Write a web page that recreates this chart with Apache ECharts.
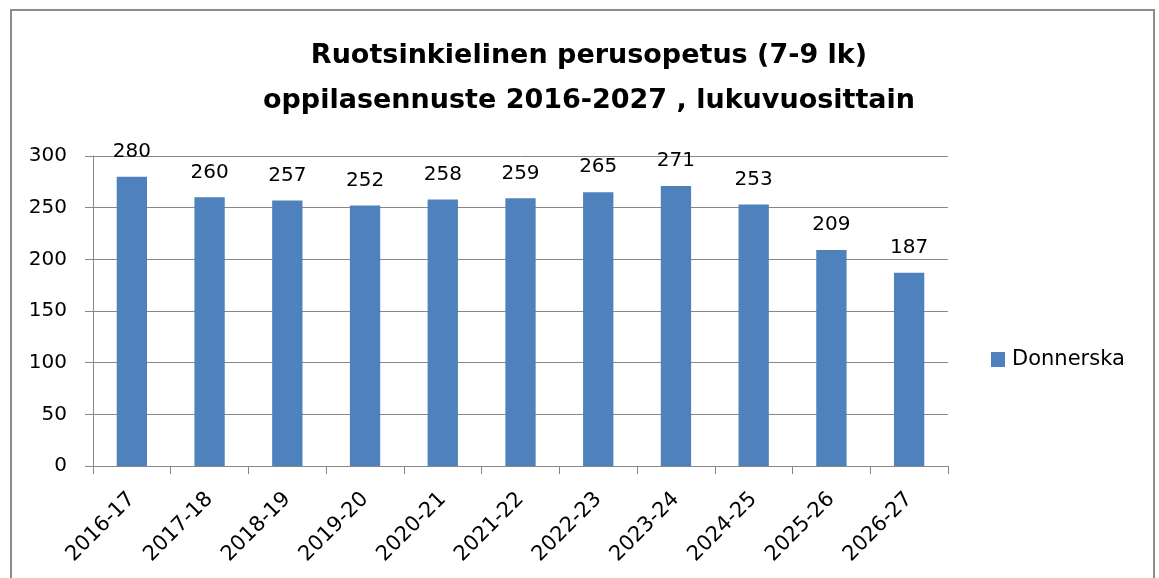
<!DOCTYPE html>
<html>
<head>
<meta charset="utf-8">
<script src="https://cdn.jsdelivr.net/npm/echarts@6/dist/echarts.min.js"></script>
<style>
  html, body { margin: 0; padding: 0; background: #fff; }
  #chart { width: 1159px; height: 578px; }
</style>
</head>
<body>
<div id="chart"></div>
<script>
const categories = ["2016-17", "2017-18", "2018-19", "2019-20", "2020-21", "2021-22", "2022-23", "2023-24", "2024-25", "2025-26", "2026-27"];
const donnerska = [280, 260, 257, 252, 258, 259, 265, 271, 253, 209, 187];
const seriesName = "Donnerska";
const titleText = "Ruotsinkielinen perusopetus (7-9 lk)\noppilasennuste 2016-2027 , lukuvuosittain";

const font = "'DejaVu Sans', sans-serif";
const chart = echarts.init(document.getElementById("chart"));

chart.setOption({
  animation: false,
  backgroundColor: "#fff",
  textStyle: { fontFamily: font },
  graphic: [{
    type: "rect",
    shape: { x: 11, y: 10, width: 1143, height: 600 },
    style: { fill: "none", stroke: "#8c8c8c", lineWidth: 2 },
    silent: true
  }],
  title: {
    text: titleText,
    left: 584,
    textAlign: "center",
    top: 28,
    textStyle: { fontFamily: font, fontSize: 27, fontWeight: "bold", color: "#000", lineHeight: 45 }
  },
  legend: {
    data: [seriesName],
    left: 986,
    top: 344,
    icon: "rect",
    itemWidth: 14,
    itemHeight: 15,
    itemGap: 6,
    textStyle: { fontFamily: font, fontSize: 21, color: "#000", padding: [0, 0, 0, 2] }
  },
  grid: { left: 93, right: 211, top: 156, bottom: 112 },
  xAxis: {
    type: "category",
    data: categories,
    axisLine: { show: true, lineStyle: { color: "#878787", width: 1 } },
    axisTick: { show: true, length: 8, alignWithLabel: false, lineStyle: { color: "#878787" } },
    axisLabel: { rotate: 45, margin: 30, fontFamily: font, fontSize: 21, color: "#000" }
  },
  yAxis: {
    type: "value",
    min: 0,
    max: 300,
    interval: 50,
    axisLine: { show: true, lineStyle: { color: "#878787", width: 1 } },
    axisTick: { show: true, length: 8, lineStyle: { color: "#878787" } },
    splitLine: { show: true, lineStyle: { color: "#878787", width: 1 } },
    axisLabel: { margin: 26, fontFamily: font, fontSize: 20, color: "#000" }
  },
  series: [{
    name: seriesName,
    type: "bar",
    data: donnerska,
    barWidth: "39%",
    itemStyle: { color: "#4f81bd" },
    label: { show: true, position: "top", distance: 15, fontFamily: font, fontSize: 20, color: "#000" }
  }]
});
</script>
</body>
</html>
